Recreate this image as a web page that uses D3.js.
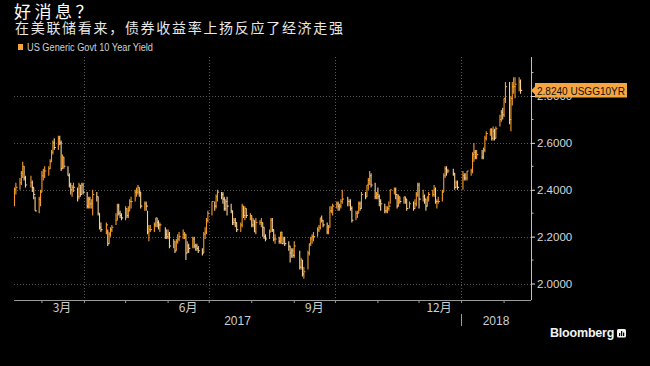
<!DOCTYPE html>
<html>
<head>
<meta charset="utf-8">
<script src="https://cdn.jsdelivr.net/npm/d3@7"></script>
<style>
    html, body { margin: 0; padding: 0; background: #000; }
    #chart { width: 650px; height: 366px; overflow: hidden; }
</style>
</head>
<body>
<div id="chart"></div>
<script>
(function () {
    "use strict";

    // trading days: weekdays between first and last day, minus these holidays
    const firstDay = "2017-02-09";
    const lastDay = "2018-02-13";
    const holidays = [
        "2017-02-20", "2017-04-14", "2017-05-29", "2017-07-04", "2017-09-04",
        "2017-10-09", "2017-11-23", "2017-12-25", "2018-01-01", "2018-01-15"
    ];

    // daily closes, one row per month (Feb 2017 .. Feb 2018)
    const close = [
        2.40, 2.41, 2.43, 2.47, 2.50, 2.45, 2.42, 2.43, 2.41, 2.38, 2.31, 2.36, 2.39,
        2.46, 2.48, 2.48, 2.49, 2.52, 2.56, 2.60, 2.58, 2.62, 2.60, 2.49, 2.54, 2.50, 2.46, 2.42, 2.40, 2.41, 2.41, 2.37, 2.42, 2.38, 2.42, 2.39,
        2.33, 2.36, 2.34, 2.34, 2.38, 2.37, 2.30, 2.24, 2.23, 2.25, 2.17, 2.21, 2.23, 2.24, 2.27, 2.33, 2.30, 2.29, 2.28,
        2.32, 2.29, 2.31, 2.35, 2.35, 2.39, 2.39, 2.41, 2.39, 2.33, 2.34, 2.33, 2.22, 2.23, 2.23, 2.25, 2.28, 2.26, 2.25, 2.25, 2.21, 2.20,
        2.21, 2.16, 2.18, 2.14, 2.18, 2.19, 2.20, 2.21, 2.21, 2.13, 2.16, 2.15, 2.19, 2.16, 2.16, 2.15, 2.14, 2.13, 2.21, 2.22, 2.27, 2.30,
        2.35, 2.33, 2.37, 2.39, 2.38, 2.36, 2.32, 2.35, 2.33, 2.31, 2.26, 2.27, 2.26, 2.23, 2.25, 2.33, 2.29, 2.32, 2.29, 2.29,
        2.25, 2.27, 2.22, 2.26, 2.26, 2.26, 2.24, 2.20, 2.19, 2.22, 2.27, 2.23, 2.19, 2.19, 2.18, 2.22, 2.17, 2.19, 2.17, 2.16, 2.13, 2.14, 2.12,
        2.16, 2.07, 2.10, 2.04, 2.05, 2.13, 2.17, 2.19, 2.20, 2.20, 2.23, 2.24, 2.28, 2.27, 2.25, 2.22, 2.24, 2.31, 2.31, 2.33,
        2.34, 2.33, 2.33, 2.35, 2.36, 2.35, 2.35, 2.32, 2.27, 2.30, 2.30, 2.34, 2.32, 2.38, 2.37, 2.42, 2.44, 2.46, 2.42, 2.37, 2.38,
        2.37, 2.35, 2.34, 2.31, 2.31, 2.32, 2.33, 2.40, 2.40, 2.38, 2.33, 2.37, 2.35, 2.37, 2.36, 2.32, 2.34, 2.32, 2.34, 2.38, 2.42,
        2.36, 2.37, 2.36, 2.33, 2.37, 2.38, 2.38, 2.40, 2.35, 2.35, 2.35, 2.39, 2.46, 2.49, 2.48, 2.48, 2.47, 2.41, 2.43, 2.41,
        2.46, 2.45, 2.45, 2.48, 2.48, 2.55, 2.56, 2.54, 2.55, 2.54, 2.57, 2.62, 2.64, 2.66, 2.62, 2.65, 2.62, 2.66, 2.70, 2.73, 2.72,
        2.79, 2.84, 2.70, 2.79, 2.84, 2.84, 2.85, 2.86, 2.824
    ];

    const high = [
        2.41, 2.43, 2.45, 2.48, 2.52, 2.50, 2.46, 2.46, 2.44, 2.41, 2.37, 2.37, 2.40,
        2.48, 2.49, 2.50, 2.50, 2.53, 2.57, 2.61, 2.62, 2.63, 2.63, 2.61, 2.55, 2.54, 2.50, 2.47, 2.43, 2.42, 2.43, 2.41, 2.43, 2.42, 2.43, 2.43,
        2.39, 2.37, 2.37, 2.36, 2.40, 2.39, 2.37, 2.30, 2.26, 2.26, 2.23, 2.22, 2.24, 2.25, 2.30, 2.34, 2.34, 2.31, 2.30,
        2.33, 2.32, 2.33, 2.36, 2.37, 2.40, 2.41, 2.42, 2.41, 2.39, 2.35, 2.35, 2.31, 2.25, 2.25, 2.26, 2.28, 2.28, 2.27, 2.26, 2.24, 2.23,
        2.23, 2.22, 2.19, 2.18, 2.19, 2.21, 2.22, 2.23, 2.22, 2.21, 2.18, 2.17, 2.20, 2.20, 2.17, 2.17, 2.16, 2.15, 2.22, 2.24, 2.28, 2.31,
        2.35, 2.35, 2.38, 2.40, 2.39, 2.39, 2.37, 2.36, 2.37, 2.34, 2.31, 2.28, 2.28, 2.26, 2.26, 2.34, 2.33, 2.33, 2.32, 2.30,
        2.29, 2.28, 2.27, 2.28, 2.27, 2.28, 2.26, 2.24, 2.21, 2.23, 2.28, 2.28, 2.23, 2.21, 2.20, 2.22, 2.22, 2.20, 2.20, 2.18, 2.16, 2.15, 2.15,
        2.18, 2.14, 2.11, 2.10, 2.07, 2.14, 2.17, 2.20, 2.21, 2.22, 2.24, 2.25, 2.28, 2.29, 2.27, 2.26, 2.25, 2.33, 2.33, 2.34,
        2.35, 2.35, 2.34, 2.36, 2.40, 2.37, 2.36, 2.36, 2.33, 2.31, 2.31, 2.35, 2.35, 2.39, 2.39, 2.42, 2.45, 2.48, 2.47, 2.43, 2.39,
        2.41, 2.38, 2.36, 2.34, 2.33, 2.33, 2.35, 2.40, 2.41, 2.41, 2.38, 2.38, 2.37, 2.37, 2.37, 2.36, 2.35, 2.35, 2.36, 2.39, 2.43,
        2.43, 2.40, 2.38, 2.36, 2.37, 2.39, 2.40, 2.42, 2.41, 2.36, 2.37, 2.40, 2.47, 2.50, 2.50, 2.49, 2.49, 2.47, 2.44, 2.44,
        2.48, 2.47, 2.47, 2.48, 2.49, 2.56, 2.60, 2.57, 2.57, 2.57, 2.58, 2.63, 2.65, 2.66, 2.66, 2.67, 2.66, 2.67, 2.72, 2.74, 2.75,
        2.79, 2.86, 2.86, 2.80, 2.86, 2.88, 2.88, 2.88, 2.87
    ];

    const low = [
        2.33, 2.38, 2.40, 2.42, 2.45, 2.44, 2.41, 2.41, 2.39, 2.36, 2.31, 2.30, 2.33,
        2.39, 2.44, 2.45, 2.46, 2.49, 2.52, 2.55, 2.57, 2.57, 2.59, 2.48, 2.49, 2.49, 2.46, 2.41, 2.38, 2.37, 2.39, 2.35, 2.36, 2.37, 2.38, 2.38,
        2.32, 2.32, 2.32, 2.32, 2.29, 2.35, 2.29, 2.23, 2.22, 2.21, 2.16, 2.17, 2.20, 2.22, 2.25, 2.27, 2.29, 2.28, 2.27,
        2.27, 2.28, 2.28, 2.31, 2.32, 2.35, 2.37, 2.38, 2.37, 2.32, 2.31, 2.31, 2.21, 2.18, 2.22, 2.22, 2.24, 2.24, 2.23, 2.22, 2.19, 2.19,
        2.19, 2.15, 2.15, 2.13, 2.14, 2.17, 2.18, 2.19, 2.19, 2.10, 2.13, 2.13, 2.15, 2.15, 2.14, 2.14, 2.13, 2.12, 2.13, 2.19, 2.21, 2.26,
        2.29, 2.31, 2.32, 2.35, 2.36, 2.34, 2.31, 2.31, 2.29, 2.30, 2.25, 2.25, 2.24, 2.22, 2.22, 2.24, 2.28, 2.27, 2.28, 2.27,
        2.24, 2.24, 2.22, 2.21, 2.25, 2.24, 2.20, 2.19, 2.18, 2.19, 2.22, 2.22, 2.18, 2.17, 2.17, 2.17, 2.17, 2.17, 2.16, 2.14, 2.09, 2.11, 2.11,
        2.11, 2.06, 2.06, 2.03, 2.02, 2.06, 2.12, 2.16, 2.17, 2.18, 2.20, 2.22, 2.23, 2.26, 2.24, 2.21, 2.21, 2.24, 2.30, 2.29,
        2.32, 2.31, 2.31, 2.32, 2.34, 2.33, 2.33, 2.31, 2.26, 2.27, 2.28, 2.30, 2.31, 2.32, 2.36, 2.37, 2.40, 2.42, 2.41, 2.36, 2.36,
        2.36, 2.33, 2.31, 2.30, 2.30, 2.30, 2.31, 2.34, 2.38, 2.36, 2.32, 2.33, 2.34, 2.34, 2.34, 2.31, 2.32, 2.31, 2.32, 2.33, 2.37,
        2.32, 2.35, 2.34, 2.31, 2.33, 2.35, 2.37, 2.37, 2.34, 2.32, 2.34, 2.35, 2.39, 2.45, 2.46, 2.47, 2.46, 2.40, 2.41, 2.40,
        2.40, 2.44, 2.44, 2.44, 2.46, 2.47, 2.52, 2.53, 2.53, 2.53, 2.53, 2.56, 2.61, 2.63, 2.61, 2.61, 2.61, 2.62, 2.67, 2.69, 2.70,
        2.71, 2.77, 2.68, 2.65, 2.76, 2.81, 2.79, 2.82, 2.81
    ];

    const yTicks = [2.0, 2.2, 2.4, 2.6, 2.8];
    const yMinorTicks = [2.1, 2.3, 2.5, 2.7, 2.9];
    const monthLabelDates = ["2017-03-16", "2017-06-16", "2017-09-16", "2017-12-16"];
    const monthLabelTexts = ["3月", "6月", "9月", "12月"];
    const yearLabels = ["2017", "2018"];
    const lastValue = 2.824;
    const ticker = "USGG10YR";
    const seriesName = "US Generic Govt 10 Year Yield";
    const title = "好消息？";
    const subtitle = "在美联储看来，债券收益率上扬反应了经济走强";

    const width = 650;
    const height = 366;
    const frame = { left: 14, right: 531, top: 57, bottom: 300 };
    const upColor = "#f39a2a";
    const downColor = "#f5cf98";
    const gridColor = "#575757";
    const cjk = "'Noto Sans CJK SC', 'Liberation Sans', sans-serif";
    const latin = "'Liberation Sans', Arial, sans-serif";

    const parseDay = d3.timeParse("%Y-%m-%d");
    const formatDay = d3.timeFormat("%Y-%m-%d");
    const holidaySet = new Set(holidays);

    const days = d3.timeDay.range(parseDay(firstDay), d3.timeDay.offset(parseDay(lastDay), 1))
        .filter((d) => d.getDay() !== 0 && d.getDay() !== 6 && !holidaySet.has(formatDay(d)));

    const n = Math.min(days.length, close.length, high.length, low.length);
    if (days.length !== close.length) {
        console.warn("length mismatch", days.length, close.length, high.length, low.length);
    }

    const bars = d3.range(n).map((i) => ({
        date: days[i],
        high: high[i],
        low: low[i],
        close: close[i],
        up: i === 0 ? true : close[i] >= close[i - 1]
    }));

    const x = d3.scaleTime()
        .domain([parseDay("2017-02-09"), parseDay("2018-02-21")])
        .range([frame.left, frame.right]);

    const y = d3.scaleLinear()
        .domain([2.0, 2.8])
        .range([283.5, 96]);

    const svg = d3.select("#chart")
        .append("svg")
        .attr("width", width)
        .attr("height", height)
        .style("display", "block")
        .style("background", "#000");

    // titles
    svg.append("text")
        .attr("x", 14)
        .attr("y", 17.5)
        .attr("fill", "#ffffff")
        .style("font", `17px ${cjk}`)
        .style("letter-spacing", "3.5px")
        .text(title);

    svg.append("text")
        .attr("x", 15)
        .attr("y", 32.5)
        .attr("fill", "#e8e8e8")
        .style("font", `14px ${cjk}`)
        .style("letter-spacing", "1.7px")
        .text(subtitle);

    svg.append("rect")
        .attr("x", 18)
        .attr("y", 44)
        .attr("width", 5)
        .attr("height", 6)
        .attr("fill", "#f6a33c");

    svg.append("text")
        .attr("x", 27)
        .attr("y", 51)
        .attr("fill", "#d0d0d0")
        .attr("textLength", 126)
        .attr("lengthAdjust", "spacingAndGlyphs")
        .style("font", `10px ${latin}`)
        .text(seriesName);

    // grid
    const grid = svg.append("g")
        .attr("stroke", gridColor)
        .attr("stroke-dasharray", "1,2")
        .attr("shape-rendering", "crispEdges");

    grid.selectAll("line.h")
        .data(yTicks)
        .join("line")
        .attr("class", "h")
        .attr("x1", frame.left)
        .attr("x2", frame.right)
        .attr("y1", (d) => Math.round(y(d)) + 0.5)
        .attr("y2", (d) => Math.round(y(d)) + 0.5);

    const quarterStarts = d3.timeMonth.every(3).range(x.domain()[0], x.domain()[1]);
    grid.selectAll("line.v")
        .data(quarterStarts)
        .join("line")
        .attr("class", "v")
        .attr("x1", (d) => Math.round(x(d)) + 0.5)
        .attr("x2", (d) => Math.round(x(d)) + 0.5)
        .attr("y1", frame.top)
        .attr("y2", frame.bottom);

    // bars: high-low stem with a close tick to the right
    svg.append("g")
        .attr("fill", "none")
        .attr("stroke-width", 1.1)
        .selectAll("path")
        .data(bars)
        .join("path")
        .attr("stroke", (d) => d.up ? upColor : downColor)
        .attr("d", (d) => {
            const px = x(d.date) + 0.5;
            return `M${px},${y(d.high)}V${y(d.low)}M${px},${y(d.close)}H${px + 1.6}`;
        });

    // bottom axis with monthly ticks
    const xAxis = d3.axisBottom(x)
        .tickValues(d3.timeMonth.range(x.domain()[0], x.domain()[1]))
        .tickSize(3)
        .tickFormat("");

    const gx = svg.append("g")
        .attr("transform", `translate(0,${frame.bottom})`)
        .call(xAxis);
    gx.select(".domain").attr("stroke", "#9a9a9a").attr("d", `M${frame.left},0.5H${frame.right}`);
    gx.selectAll(".tick line").attr("stroke", "#9a9a9a");

    svg.append("g")
        .selectAll("text")
        .data(monthLabelDates)
        .join("text")
        .attr("x", (d) => x(parseDay(d)))
        .attr("y", 312)
        .attr("text-anchor", "middle")
        .attr("fill", "#cfcfcf")
        .style("font", `12px ${cjk}`)
        .text((d, i) => monthLabelTexts[i]);

    const yearStart = parseDay("2018-01-01");
    const yearCenters = [(frame.left + x(yearStart)) / 2, (x(yearStart) + frame.right) / 2];
    svg.append("g")
        .selectAll("text")
        .data(yearLabels)
        .join("text")
        .attr("x", (d, i) => yearCenters[i])
        .attr("y", 325)
        .attr("text-anchor", "middle")
        .attr("fill", "#cfcfcf")
        .style("font", `12px ${latin}`)
        .text((d) => d);

    svg.append("line")
        .attr("x1", Math.round(x(yearStart)) + 0.5)
        .attr("x2", Math.round(x(yearStart)) + 0.5)
        .attr("y1", 314)
        .attr("y2", 326)
        .attr("stroke", "#9a9a9a");

    // right axis
    const yAxis = d3.axisRight(y)
        .tickValues(yTicks)
        .tickSize(4)
        .tickPadding(2)
        .tickFormat(d3.format(".4f"));

    const gy = svg.append("g")
        .attr("transform", `translate(${frame.right},0)`)
        .call(yAxis);
    gy.select(".domain").attr("stroke", "#bdbdbd").attr("d", `M0.5,${frame.top}V${frame.bottom}`);
    gy.selectAll(".tick line").attr("stroke", "#e0e0e0");
    gy.selectAll(".tick text")
        .attr("fill", "#d8d8d8")
        .style("font", `11.5px ${latin}`);

    gy.append("g")
        .selectAll("line")
        .data(yMinorTicks)
        .join("line")
        .attr("x1", 0)
        .attr("x2", 2.5)
        .attr("y1", (d) => y(d))
        .attr("y2", (d) => y(d))
        .attr("stroke", "#bdbdbd");

    // last value tag
    const ty = y(lastValue);
    const tag = svg.append("g");
    tag.append("path")
        .attr("fill", "#f6a540")
        .attr("d", `M${frame.right},${ty}L${frame.right + 4},${ty - 4}V${ty - 7.5}H627V${ty + 7}H${frame.right + 4}V${ty + 4}Z`);
    tag.append("text")
        .attr("x", 537)
        .attr("y", ty)
        .attr("dy", "0.36em")
        .attr("fill", "#111")
        .attr("textLength", 88)
        .attr("lengthAdjust", "spacingAndGlyphs")
        .style("font", `11.5px ${latin}`)
        .text(`${lastValue.toFixed(4)} ${ticker}`);

    // Bloomberg mark
    svg.append("text")
        .attr("x", 550)
        .attr("y", 337)
        .attr("fill", "#f2f2f2")
        .style("font", `bold 12.5px ${latin}`)
        .style("letter-spacing", "-0.2px")
        .text("Bloomberg");

    const mark = svg.append("g").attr("transform", "translate(617,329)");
    mark.append("rect")
        .attr("width", 9)
        .attr("height", 8.5)
        .attr("rx", 1.5)
        .attr("fill", "#f2f2f2");
    mark.append("g")
        .attr("fill", "#000")
        .selectAll("rect")
        .data([[2, 4, 1.2, 3], [4, 2, 1.2, 5], [6, 3.5, 1.2, 3.5]])
        .join("rect")
        .attr("x", (d) => d[0])
        .attr("y", (d) => d[1])
        .attr("width", (d) => d[2])
        .attr("height", (d) => d[3]);
})();
</script>
</body>
</html>
